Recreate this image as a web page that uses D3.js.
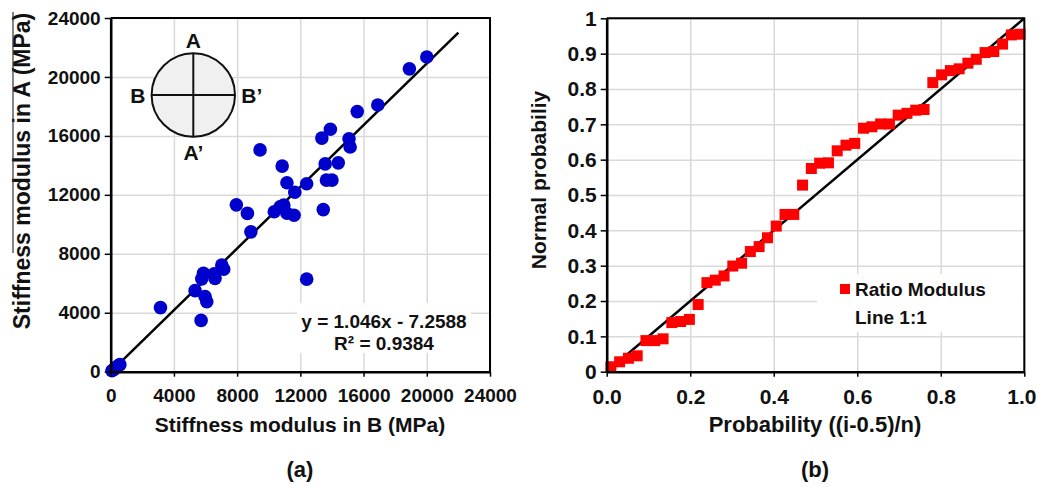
<!DOCTYPE html>
<html>
<head>
<meta charset="utf-8">
<script src="https://cdn.jsdelivr.net/npm/d3@7"></script>
<style>
  body { margin: 0; background: #fff; }
  text { font-family: "Liberation Sans", Arial, sans-serif; font-weight: bold; fill: #111; }
</style>
</head>
<body>
<svg id="chart" width="1037" height="487"></svg>
<script>
// (a) stiffness modulus, B direction vs A direction (MPa)
const modulusB = [20000, 18900, 16900, 15600, 13900, 13360, 15080, 15150, 9450, 10850,
  13570, 14400, 11150, 12400, 13650, 14000, 11650, 7950, 8650, 8870,
  10350, 10950, 11150, 11600, 13450, 10720, 12400, 5870, 5760, 6550,
  6600, 7030, 7150, 5340, 5970, 6080, 5720, 3150, 80, 200,
  330, 450, 580];
const modulusA = [21350, 20550, 18100, 17650, 16450, 15850, 15800, 15250, 15050, 13950,
  14100, 14170, 12820, 12750, 13000, 13000, 12180, 11320, 10740, 9490,
  10850, 11300, 10750, 10620, 11000, 11190, 6280, 6670, 6300, 6650,
  6330, 7230, 6950, 5500, 5100, 4750, 3480, 4350, 60, 150,
  280, 380, 480];
const fitSlope = 1.046, fitIntercept = -7.2588;
const fitRange = [0, 22000];
const ticksA = [0, 4000, 8000, 12000, 16000, 20000, 24000];

// (b) normal probability plot of the modulus ratio
const probX = [0.010, 0.031, 0.052, 0.073, 0.094, 0.115, 0.135, 0.156, 0.177, 0.198,
  0.219, 0.240, 0.260, 0.281, 0.302, 0.323, 0.344, 0.365, 0.385, 0.406,
  0.427, 0.448, 0.469, 0.490, 0.510, 0.531, 0.552, 0.573, 0.594, 0.615,
  0.635, 0.656, 0.677, 0.698, 0.719, 0.740, 0.760, 0.781, 0.802, 0.823,
  0.844, 0.865, 0.885, 0.906, 0.927, 0.948, 0.969, 0.990];
const probY = [0.014, 0.028, 0.038, 0.045, 0.088, 0.088, 0.093, 0.139, 0.142, 0.148,
  0.190, 0.252, 0.259, 0.271, 0.299, 0.307, 0.340, 0.354, 0.379, 0.412,
  0.445, 0.445, 0.528, 0.575, 0.590, 0.591, 0.625, 0.641, 0.646, 0.689,
  0.693, 0.701, 0.701, 0.726, 0.731, 0.740, 0.742, 0.818, 0.840, 0.852,
  0.857, 0.873, 0.884, 0.903, 0.906, 0.927, 0.953, 0.955];
const xTicksB = [0, 0.2, 0.4, 0.6, 0.8, 1.0];
const yTicksB = [0, 0.1, 0.2, 0.3, 0.4, 0.5, 0.6, 0.7, 0.8, 0.9, 1];

const svg = d3.select("#chart");

function panel(x, y, xTicks, yTicks) {
  const g = svg.append("g");
  const [x0, x1] = x.range(), [y0, y1] = y.range();
  // gridlines
  g.append("g").attr("transform", `translate(0,${y0})`)
    .call(d3.axisBottom(x).tickValues(xTicks).tickSize(y1 - y0).tickFormat(""))
    .call(a => a.select(".domain").remove())
    .selectAll("line").attr("stroke", "#d9d9d9").attr("stroke-width", 1.5);
  g.append("g").attr("transform", `translate(${x0},0)`)
    .call(d3.axisLeft(y).tickValues(yTicks).tickSize(x0 - x1).tickFormat(""))
    .call(a => a.select(".domain").remove())
    .selectAll("line").attr("stroke", "#d9d9d9").attr("stroke-width", 1.5);
  return g;
}

function axes(x, y, xTicks, yTicks, xFmt, yFmt, fontSize) {
  const [x0, x1] = x.range(), [y0, y1] = y.range();
  const xa = svg.append("g").attr("transform", `translate(0,${y0})`)
    .call(d3.axisBottom(x).tickValues(xTicks).tickSize(5).tickSizeOuter(0).tickPadding(12).tickFormat(xFmt));
  const ya = svg.append("g").attr("transform", `translate(${x0},0)`)
    .call(d3.axisLeft(y).tickValues(yTicks).tickSize(6).tickSizeOuter(0).tickPadding(4).tickFormat(yFmt));
  [xa, ya].forEach(a => {
    a.select(".domain").attr("stroke", "#000").attr("stroke-width", 2.6);
    a.selectAll(".tick line").attr("stroke", "#000").attr("stroke-width", 1.5);
    a.selectAll("text").style("font-size", fontSize).attr("fill", "#111");
  });
  // top and right border
  svg.append("path")
    .attr("d", `M${x0},${y1}H${x1}V${y0}`)
    .attr("fill", "none").attr("stroke", "#000").attr("stroke-width", 2);
  return xa;
}

// ---------- (a) ----------
const xA = d3.scaleLinear().domain([0, 24000]).range([110.7, 490]);
const yA = d3.scaleLinear().domain([0, 24000]).range([371.7, 18]);
panel(xA, yA, ticksA, ticksA);

// white box behind the equation
svg.append("rect").attr("x", 297).attr("y", 303).attr("width", 174).attr("height", 50).attr("fill", "#fff");

svg.append("line")
  .attr("x1", xA(fitRange[0])).attr("y1", yA(fitSlope * fitRange[0] + fitIntercept))
  .attr("x2", xA(fitRange[1])).attr("y2", yA(fitSlope * fitRange[1] + fitIntercept))
  .attr("stroke", "#000").attr("stroke-width", 2.5);

svg.append("g").selectAll("circle")
  .data(modulusB.map((b, i) => [b, modulusA[i]]))
  .enter().append("circle")
  .attr("cx", d => xA(d[0])).attr("cy", d => yA(d[1]))
  .attr("r", 6.8).attr("fill", "#0000cc");

axes(xA, yA, ticksA, ticksA, d3.format("d"), d3.format("d"), "19px");

svg.append("text").attr("x", 384).attr("y", 328).attr("text-anchor", "middle")
  .style("font-size", "19px").text("y = 1.046x - 7.2588");
svg.append("text").attr("x", 384).attr("y", 350).attr("text-anchor", "middle")
  .style("font-size", "19px").text("R² = 0.9384");

// inset: core cross-section
const inset = svg.append("g").attr("transform", "translate(193.3,95)");
inset.append("circle").attr("r", 41.7).attr("fill", "#f0f0f0").attr("stroke", "#111").attr("stroke-width", 2);
inset.append("line").attr("x1", 0).attr("x2", 0).attr("y1", -41.7).attr("y2", 41.7).attr("stroke", "#111").attr("stroke-width", 2);
inset.append("line").attr("x1", -41.7).attr("x2", 41.7).attr("y1", 0).attr("y2", 0).attr("stroke", "#111").attr("stroke-width", 2);
[["A", 0, -47, "middle"], ["A’", 0, 65, "middle"], ["B", -48, 8, "end"], ["B’", 48, 8, "start"]]
  .forEach(([t, dx, dy, anchor]) => {
    inset.append("text").attr("x", dx).attr("y", dy).attr("text-anchor", anchor)
      .style("font-size", "21px").text(t);
  });

svg.append("text").attr("x", 300).attr("y", 432).attr("text-anchor", "middle")
  .style("font-size", "21px").text("Stiffness modulus in B (MPa)");
svg.append("text").attr("transform", "translate(30,171) rotate(-90)").attr("text-anchor", "middle")
  .style("font-size", "23px").text("Stiffness modulus in A (MPa)");
svg.append("line").attr("x1", 13).attr("x2", 13).attr("y1", 12).attr("y2", 253)
  .attr("stroke", "#333").attr("stroke-width", 1.2);
svg.append("text").attr("x", 300).attr("y", 477).attr("text-anchor", "middle")
  .style("font-size", "22px").text("(a)");

// ---------- (b) ----------
const xB = d3.scaleLinear().domain([0, 1]).range([606.7, 1024.3]);
const yB = d3.scaleLinear().domain([0, 1]).range([371.7, 18.3]);
panel(xB, yB, xTicksB, yTicksB);

// legend box
svg.append("rect").attr("x", 817).attr("y", 274).attr("width", 206).attr("height", 58).attr("fill", "#fff");

svg.append("line")
  .attr("x1", xB(0)).attr("y1", yB(0)).attr("x2", xB(1)).attr("y2", yB(1))
  .attr("stroke", "#000").attr("stroke-width", 2.5);

svg.append("g").selectAll("rect")
  .data(probX.map((p, i) => [p, probY[i]]))
  .enter().append("rect")
  .attr("x", d => xB(d[0]) - 5.5).attr("y", d => yB(d[1]) - 5.5)
  .attr("width", 11).attr("height", 11).attr("fill", "#ff0000");

const xaxB = axes(xB, yB, xTicksB, yTicksB, d3.format(".1f"), d => d === 0 || d === 1 ? String(d) : d3.format(".1f")(d), "21px");
// keep the last label inside the page
xaxB.selectAll(".tick text").filter(d => d === 1).attr("dx", -3);

svg.append("rect").attr("x", 840).attr("y", 284).attr("width", 10).attr("height", 10).attr("fill", "#ff0000");
svg.append("text").attr("x", 855).attr("y", 296).style("font-size", "19px").text("Ratio Modulus");
svg.append("text").attr("x", 855).attr("y", 324).style("font-size", "19px").text("Line 1:1");

svg.append("text").attr("x", 815).attr("y", 432).attr("text-anchor", "middle")
  .style("font-size", "22px").text("Probability ((i-0.5)/n)");
svg.append("text").attr("transform", "translate(546,180) rotate(-90)").attr("text-anchor", "middle")
  .style("font-size", "21px").text("Normal probabiliy");
svg.append("text").attr("x", 815).attr("y", 477).attr("text-anchor", "middle")
  .style("font-size", "22px").text("(b)");
</script>
</body>
</html>
